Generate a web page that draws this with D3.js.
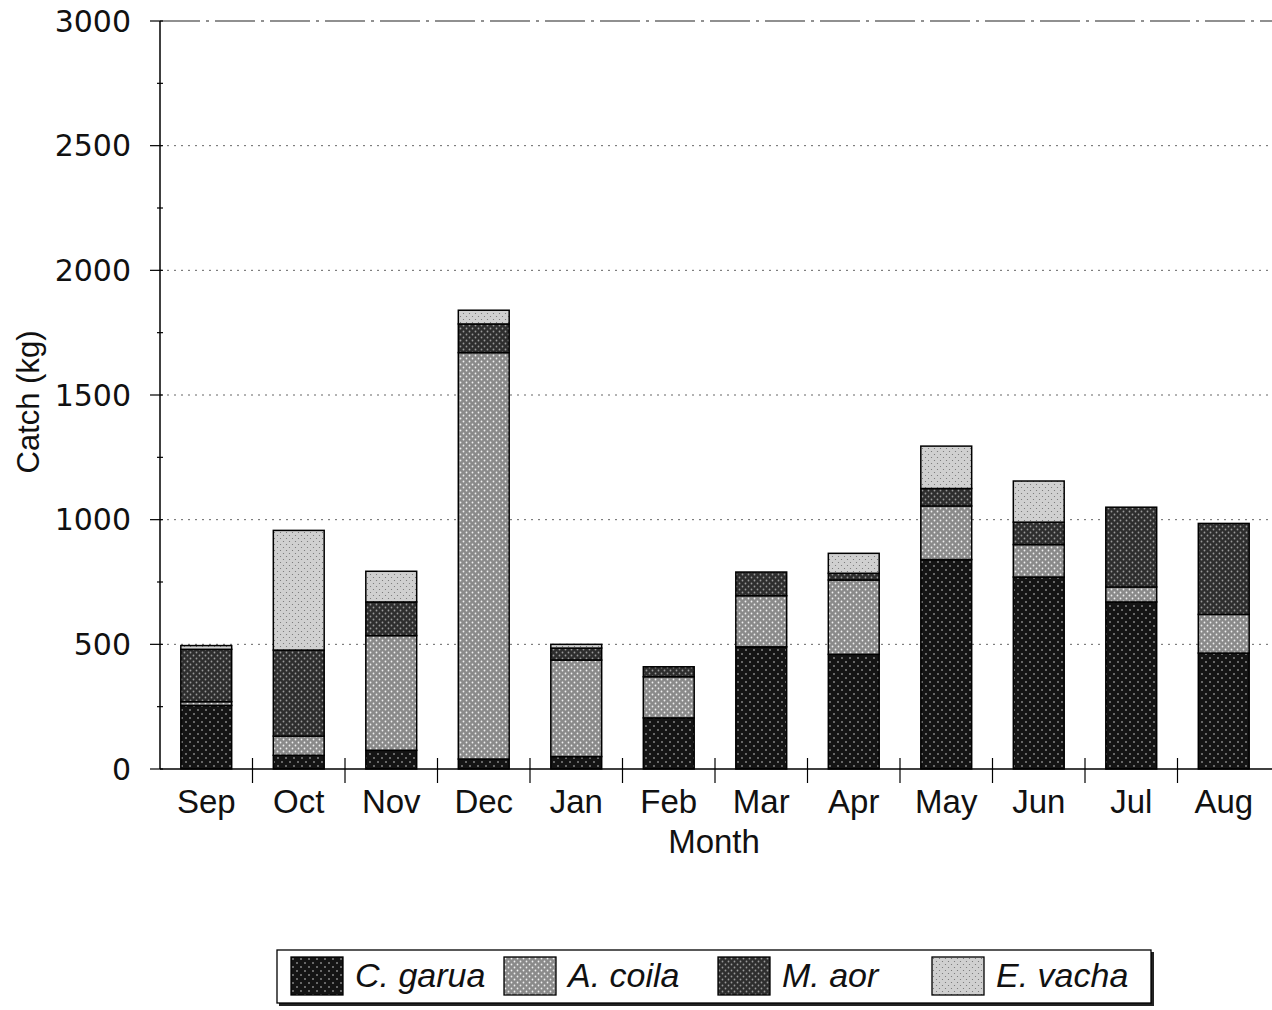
<!DOCTYPE html>
<html>
<head>
<meta charset="utf-8">
<script src="https://cdn.jsdelivr.net/npm/d3@7"></script>
<style>
  html, body { margin: 0; padding: 0; background: #fff; }
  svg { display: block; font-family: "Liberation Sans", Arial, sans-serif; }
</style>
</head>
<body>
<svg id="chart" width="1272" height="1010"></svg>
<script>
// ---- data ----
const months = ["Sep", "Oct", "Nov", "Dec", "Jan", "Feb", "Mar", "Apr", "May", "Jun", "Jul", "Aug"];
const species = ["C. garua", "A. coila", "M. aor", "E. vacha"];
const cGarua = [255, 55, 75, 40, 50, 205, 490, 460, 840, 770, 670, 465];
const aCoila = [15, 77, 460, 1630, 387, 165, 205, 298, 215, 130, 60, 155];
const mAor   = [210, 345, 135, 115, 48, 40, 95, 27, 70, 90, 320, 365];
const eVacha = [15, 480, 123, 55, 15, 0, 0, 80, 170, 165, 0, 0];
const yTicks = [0, 500, 1000, 1500, 2000, 2500, 3000];

const seriesValues = [cGarua, aCoila, mAor, eVacha];
const rows = months.map((m, i) => {
  const r = { month: m };
  species.forEach((s, k) => r[s] = seriesValues[k][i]);
  return r;
});

// ---- layout ----
const svg = d3.select("#chart");
const x0 = 160, x1 = 1270, yTop = 21, yBot = 769;

const x = d3.scaleBand().domain(months).range([x0, x1]).paddingInner(0.45).paddingOuter(0.225);
const y = d3.scaleLinear().domain([0, 3000]).range([yBot, yTop]);

// halftone-like patterns
const defs = svg.append("defs");
const pat = [
  { id: "p0", bg: "#141414", dot: "#d0d0d0", r: 0.8, s: 4 },
  { id: "p1", bg: "#8a8a8a", dot: "#f0f0f0", r: 0.9, s: 3 },
  { id: "p2", bg: "#2e2e2e", dot: "#9a9a9a", r: 0.9, s: 3 },
  { id: "p3", bg: "#d0d0d0", dot: "#707070", r: 0.6, s: 3 }
];
pat.forEach(p => {
  const g = defs.append("pattern").attr("id", p.id).attr("patternUnits", "userSpaceOnUse")
    .attr("width", p.s * 2).attr("height", p.s * 2);
  g.append("rect").attr("width", p.s * 2).attr("height", p.s * 2).attr("fill", p.bg);
  g.append("circle").attr("cx", p.s / 2).attr("cy", p.s / 2).attr("r", p.r).attr("fill", p.dot);
  g.append("circle").attr("cx", p.s * 1.5).attr("cy", p.s * 1.5).attr("r", p.r).attr("fill", p.dot);
});
const fillOf = d3.scaleOrdinal().domain(species).range(pat.map(p => `url(#${p.id})`));

// gridlines
svg.append("g").selectAll("line").data(yTicks.filter(t => t > 0 && t < 3000)).join("line")
  .attr("x1", x0).attr("x2", x1 + 2).attr("y1", d => y(d)).attr("y2", d => y(d))
  .attr("stroke", "#666").attr("stroke-width", 1).attr("stroke-dasharray", "2,5");
svg.append("line").attr("x1", x0).attr("x2", 1272).attr("y1", y(3000)).attr("y2", y(3000))
  .attr("stroke", "#222").attr("stroke-width", 1.2).attr("stroke-dasharray", "40,6,3,6");

// stacked bars
const stack = d3.stack().keys(species)(rows);
svg.append("g").selectAll("g").data(stack).join("g")
  .attr("fill", d => fillOf(d.key))
  .selectAll("rect").data(d => d.filter(s => s[1] - s[0] > 0)).join("rect")
  .attr("x", d => x(d.data.month))
  .attr("width", x.bandwidth())
  .attr("y", d => y(d[1]))
  .attr("height", d => y(d[0]) - y(d[1]))
  .attr("stroke", "#000").attr("stroke-width", 1.5);

// y axis
const yAxis = svg.append("g");
yAxis.append("line").attr("x1", x0).attr("x2", x0).attr("y1", yTop).attr("y2", yBot)
  .attr("stroke", "#000").attr("stroke-width", 1.5);
const minor = d3.range(250, 3000, 500);
yAxis.selectAll(".minor").data(minor).join("line").attr("class", "minor")
  .attr("x1", x0 - 3).attr("x2", x0 + 3).attr("y1", d => y(d)).attr("y2", d => y(d))
  .attr("stroke", "#000").attr("stroke-width", 1.2);
yAxis.selectAll(".major").data(yTicks).join("line").attr("class", "major")
  .attr("x1", x0 - 10).attr("x2", x0 + 3).attr("y1", d => y(d)).attr("y2", d => y(d))
  .attr("stroke", "#000").attr("stroke-width", 1.2);
yAxis.selectAll("text").data(yTicks).join("text")
  .attr("x", 131).attr("y", d => y(d)).attr("dy", "0.36em")
  .attr("text-anchor", "end").attr("font-size", 30).attr("fill", "#111")
  .attr("font-family", "'DejaVu Sans', sans-serif")
  .text(d => d);

// x axis
const xAxis = svg.append("g");
xAxis.append("line").attr("x1", x0).attr("x2", 1272).attr("y1", yBot).attr("y2", yBot)
  .attr("stroke", "#000").attr("stroke-width", 1.5);
xAxis.selectAll(".tk").data(months.slice(1)).join("line").attr("class", "tk")
  .attr("x1", m => x(m) - (x.step() - x.bandwidth()) / 2)
  .attr("x2", m => x(m) - (x.step() - x.bandwidth()) / 2)
  .attr("y1", yBot - 11).attr("y2", yBot + 14)
  .attr("stroke", "#000").attr("stroke-width", 1.2);
xAxis.selectAll("text").data(months).join("text")
  .attr("x", m => x(m) + x.bandwidth() / 2).attr("y", 813)
  .attr("text-anchor", "middle").attr("font-size", 33).attr("fill", "#111")
  .text(m => m);

// axis titles
svg.append("text").attr("x", 714).attr("y", 853).attr("text-anchor", "middle")
  .attr("font-size", 33).attr("fill", "#111").text("Month");
svg.append("text").attr("transform", "translate(39,402) rotate(-90)")
  .attr("text-anchor", "middle").attr("font-size", 31).attr("fill", "#111").text("Catch (kg)");

// legend
const lg = svg.append("g");
lg.append("rect").attr("x", 279).attr("y", 952).attr("width", 875).attr("height", 54)
  .attr("fill", "#222");
lg.append("rect").attr("x", 277).attr("y", 950).attr("width", 874).attr("height", 53)
  .attr("fill", "#fff").attr("stroke", "#000").attr("stroke-width", 1.3);
const lgX = [291, 504, 718, 932];
const items = lg.selectAll("g.it").data(species).join("g").attr("class", "it")
  .attr("transform", (d, i) => `translate(${lgX[i]},957)`);
items.append("rect").attr("width", 52).attr("height", 38)
  .attr("fill", d => fillOf(d)).attr("stroke", "#000").attr("stroke-width", 1.3);
items.append("text").attr("x", 64).attr("y", 30).attr("font-size", 34)
  .attr("font-style", "italic").attr("fill", "#111").text(d => d);
</script>
</body>
</html>
